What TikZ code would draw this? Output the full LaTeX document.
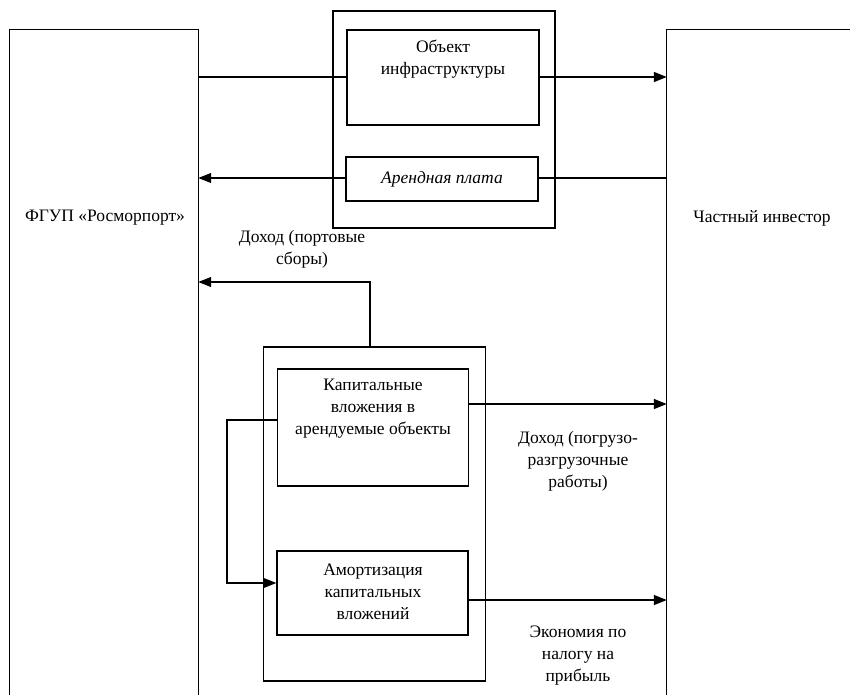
\documentclass[tikz,border=0pt]{standalone}
\usepackage{fontspec}
\setmainfont{Liberation Serif}
\usetikzlibrary{arrows.meta}
\begin{document}
\begin{tikzpicture}[x=1pt,y=-1pt,
  box/.style={draw,line width=1.2pt,fill=white,inner sep=0pt},
  frame/.style={draw,line width=1.2pt,inner sep=0pt},
  lab/.style={align=center,font=\fontsize{17.5}{22}\selectfont,inner sep=0pt},
  conn/.style={line width=1.3pt},
  arr/.style={conn,-{Triangle[length=13pt,width=10pt]}}]
\useasboundingbox (0,0) rectangle (850,695);
% left and right open boxes (anchors only)
\node[inner sep=0pt,minimum width=188,minimum height=665] (L) at (104,362.5) {};
\node[inner sep=0pt,minimum width=183,minimum height=665] (R) at (758.5,362.5) {};
\draw[line width=1.3pt] (L.south west) -- (L.north west) -- (L.north east) -- (L.south east);
\draw[line width=1.3pt] (R.south west) -- (R.north west) -- (R.north east);
% outer frames
\node[frame,minimum width=222,minimum height=217] (O1) at (444,119.5) {};
\node[frame,minimum width=222,minimum height=334] (O2) at (374.5,514) {};
% connectors (drawn under inner boxes)
\draw[arr] (L.east |- 0,77) -- (R.west |- 0,77);
\draw[arr] (R.west |- 0,178) -- (L.east |- 0,178);
\draw[arr] (O2.north -| 370,0) |- (L.east |- 0,282);
\draw[arr] (465,404) -- (R.west |- 0,404);
\draw[arr] (468,600) -- (R.west |- 0,600);
% inner boxes
\node[box,minimum width=192,minimum height=95] (B1) at (443,77.5) {};
\node[box,minimum width=192,minimum height=44] (B2) at (442,179) {};
\node[box,minimum width=191,minimum height=117] (B3) at (373,427.5) {};
\node[box,minimum width=191,minimum height=84] (B4) at (372.5,593) {};
\draw[arr] (B3.west |- 0,420) -- (227,420) |- (B4.west |- 0,583);
% labels
\node[lab] at (443,59) {Объект\\инфраструктуры};
\node[lab,font=\fontsize{17.5}{22}\selectfont\itshape] at (B2) {Арендная плата};
\node[lab] at (373,409) {Капитальные\\вложения в\\арендуемые объекты};
\node[lab] at (373,592) {Амортизация\\капитальных\\вложений};
\node[lab] at (105,218) {ФГУП «Росморпорт»};
\node[lab] at (762,218) {Частный инвестор};
\node[lab] at (302,249) {Доход (портовые\\сборы)};
\node[lab] at (578,461) {Доход (погрузо-\\разгрузочные\\работы)};
\node[lab] at (578,656) {Экономия по\\налогу на\\прибыль};
\end{tikzpicture}
\end{document}
